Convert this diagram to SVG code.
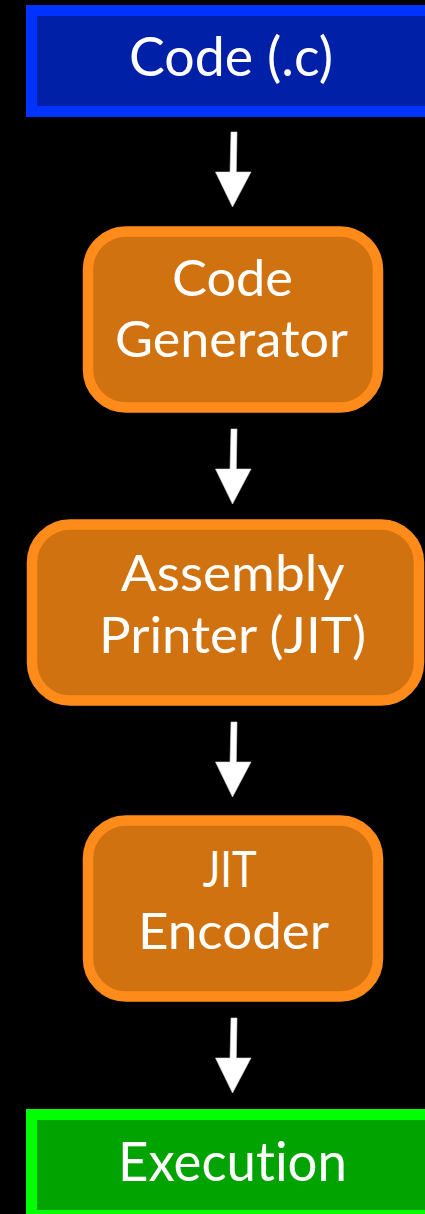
<svg xmlns="http://www.w3.org/2000/svg" width="425" height="1214" viewBox="0 0 425 1214">
  <style>
    .lbl { font-family: Lato, "Open Sans", "Liberation Sans", sans-serif; fill: #ffffff; text-anchor: middle; font-variant-ligatures: none; font-feature-settings: "liga" 0, "clig" 0; }
    .big { font-size: 54px; }
    .mid { font-size: 50.5px; }
    .src { fill: #0020a8; stroke: #0033ff; stroke-width: 11; }
    .stage { fill: #d07210; stroke: #ff8c1a; stroke-width: 10.5; }
    .sink { fill: #00a300; stroke: #00ff00; stroke-width: 11; }
    .arrow { fill: #ffffff; stroke: #d8d8d8; stroke-width: 0.6; stroke-linejoin: miter; }
  </style>
  <defs>
    <!-- down arrow: slightly tilted shaft, triangular head; origin at shaft top -->
    <polygon id="down" points="-1.5,0 4.5,0 3.8,40 18.5,40 0,75 -17,40 -2.5,40"/>
  </defs>
  <rect width="425" height="1214" fill="#000000"/>

  <g id="code-c">
    <rect class="src" x="31.5" y="10.5" width="410" height="101"/>
    <text class="lbl big" x="231" y="76" textLength="204" lengthAdjust="spacingAndGlyphs">Code (.c)</text>
  </g>

  <g id="code-generator">
    <rect class="stage" x="88" y="231.5" width="290" height="176" rx="38" ry="38"/>
    <text class="lbl mid" x="232.5" y="296" textLength="121" lengthAdjust="spacingAndGlyphs">Code</text>
    <text class="lbl mid" x="231.5" y="357" textLength="233" lengthAdjust="spacingAndGlyphs">Generator</text>
  </g>

  <g id="assembly-printer">
    <rect class="stage" x="32" y="524.5" width="387" height="176" rx="38" ry="38"/>
    <text class="lbl mid" x="232.8" y="591" textLength="224" lengthAdjust="spacingAndGlyphs">Assembly</text>
    <text class="lbl mid" x="232.5" y="653" textLength="267" lengthAdjust="spacingAndGlyphs">Printer (JIT)</text>
  </g>

  <g id="jit-encoder">
    <rect class="stage" x="88" y="820.5" width="290" height="176" rx="38" ry="38"/>
    <text class="lbl mid" x="229.7" y="887" textLength="54" lengthAdjust="spacingAndGlyphs">JIT</text>
    <text class="lbl mid" x="233.5" y="949" textLength="191" lengthAdjust="spacingAndGlyphs">Encoder</text>
  </g>

  <g id="execution">
    <rect class="sink" x="31.5" y="1114.5" width="410" height="101"/>
    <text class="lbl big" x="232.5" y="1180.5" textLength="229" lengthAdjust="spacingAndGlyphs">Execution</text>
  </g>

  <g id="connectors">
    <use href="#down" class="arrow" x="232.5" y="132"/>
    <use href="#down" class="arrow" x="232.5" y="429"/>
    <use href="#down" class="arrow" x="232.5" y="722"/>
    <use href="#down" class="arrow" x="232.5" y="1018"/>
  </g>
</svg>
